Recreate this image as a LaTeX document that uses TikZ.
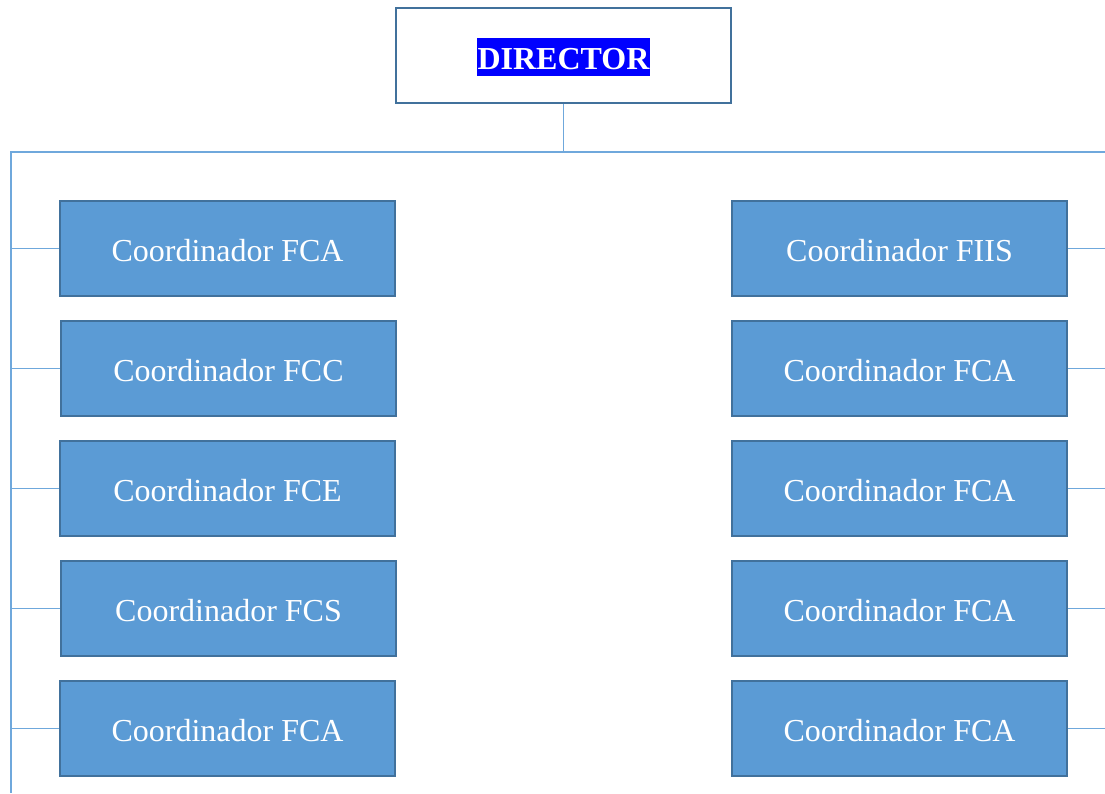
\documentclass[tikz,border=0pt]{standalone}
\usepackage{fontspec}
\setmainfont{Liberation Serif}
\definecolor{boxfill}{HTML}{5B9BD5}
\definecolor{boxedge}{HTML}{41719C}
\definecolor{linec}{HTML}{6FA8DC}
\begin{document}
\begin{tikzpicture}[x=1pt,y=-1pt,
  coord/.style={draw=boxedge,line width=2.4pt,fill=boxfill,text=white,
    minimum width=335pt,minimum height=95pt,inner sep=0pt,
    text height=25pt,text depth=0pt,
    font=\fontsize{32}{36}\selectfont},
  dirbox/.style={draw=boxedge,line width=2.4pt,fill=white,
    minimum width=335pt,minimum height=95pt,inner sep=0pt},
  dirlabel/.style={fill=blue,text=white,inner sep=1pt,text height=30pt,text depth=6pt,
    font=\fontsize{32}{36}\selectfont\bfseries},
  conn/.style={draw=linec,line width=1.6pt}]
\useasboundingbox (0,0) rectangle (1105,793);
\node[dirbox] (dir) at (563.5,55.5) {};
\node[dirlabel,anchor=base] (dirtext) at (563.5,69) {DIRECTOR};
\coordinate (sp) at (11,152);
\coordinate (jn) at (563.5,152);
\coordinate (re) at (1105,152);
\coordinate (bt) at (11,793);
\node[coord] (l1) at (227.5,248.5) {Coordinador FCA};
\node[coord] (l2) at (228.5,368.5) {Coordinador FCC};
\node[coord] (l3) at (227.5,488.5) {Coordinador FCE};
\node[coord] (l4) at (228.5,608.5) {Coordinador FCS};
\node[coord] (l5) at (227.5,728.5) {Coordinador FCA};
\node[coord] (r1) at (899.5,248.5) {Coordinador FIIS};
\node[coord] (r2) at (899.5,368.5) {Coordinador FCA};
\node[coord] (r3) at (899.5,488.5) {Coordinador FCA};
\node[coord] (r4) at (899.5,608.5) {Coordinador FCA};
\node[coord] (r5) at (899.5,728.5) {Coordinador FCA};
\draw[conn] (dir.south) -- (jn);
\draw[conn] (re) -- (sp) -- (bt);
\foreach \n in {l1,l2,l3,l4,l5}{
  \draw[conn] (\n.west) -- (\n.west -| sp);
}
\foreach \n in {r1,r2,r3,r4,r5}{
  \draw[conn] (\n.east) -- (\n.east -| re);
}
\end{tikzpicture}
\end{document}
